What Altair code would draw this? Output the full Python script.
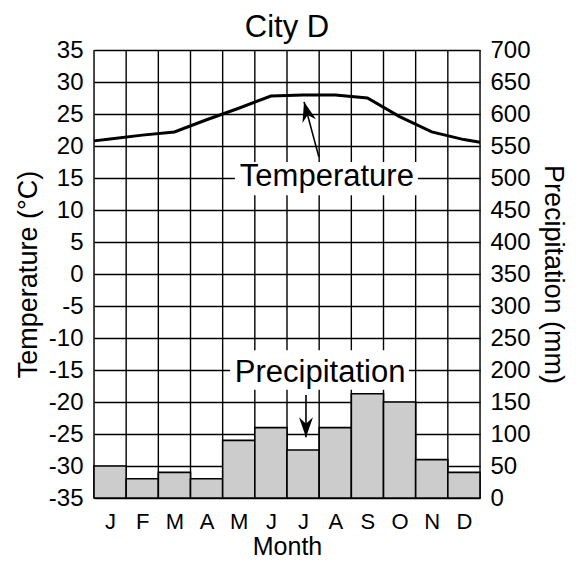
import json
import altair as alt
import pandas as pd

# ---- data ----
months = ["J", "F", "M", "A", "M", "J", "J", "A", "S", "O", "N", "D"]
precip_mm = [50, 30, 40, 30, 90, 110, 75, 110, 163, 150, 60, 40]
temp_c = [21.1, 21.7, 22.2, 24.1, 25.9, 27.8, 27.95, 27.95, 27.5, 24.6, 22.2, 21.0]
temp_year_start = 20.8   # value at the left edge (start of January)
temp_year_end = 20.6     # value at the right edge (end of December)

temp_ticks = list(range(-35, 40, 5))
precip_ticks = list(range(0, 750, 50))

# annotation labels (x in month units, y in degrees C)
ann_text = ["Temperature", "Precipitation"]
ann_x = [7.24, 7.03]
ann_y = [13.75, -16.83]
box_x1 = [4.38, 4.23]
box_x2 = [10.07, 9.79]
box_y1 = [17.5, -11.9]
box_y2 = [12.3, -18.1]
arrow_x_tail = [6.99, 6.59]
arrow_y_tail = [18.3, -18.9]
arrow_x_tip = [6.53, 6.59]
arrow_y_tip = [26.9, -25.5]
arrow_angle = [345, 180]

FONT = "Liberation Sans"
W, H = 386, 448

# ---- tables ----
n = len(months)
bars_df = pd.DataFrame({"start": list(range(n)), "end": [i + 1 for i in range(n)],
                        "precip": precip_mm, "month": months})
line_df = pd.DataFrame({"pos": [0] + [i + 0.5 for i in range(n)] + [n],
                        "temp": [temp_year_start] + temp_c + [temp_year_end]})
bounds_df = pd.DataFrame({"b": list(range(n + 1))})
ann_df = pd.DataFrame({"text": ann_text, "x": ann_x, "y": ann_y,
                       "bx1": box_x1, "bx2": box_x2, "by1": box_y1, "by2": box_y2,
                       "ax": arrow_x_tail, "ay": arrow_y_tail,
                       "tx": arrow_x_tip, "ty": arrow_y_tip, "ang": arrow_angle})

# ---- scales & axes ----
xs = alt.Scale(domain=[0, n], nice=False, zero=False)
label_expr = json.dumps(months) + "[floor(datum.value)]"
xaxis = alt.Axis(values=[i + 0.5 for i in range(n)], labelExpr=label_expr,
                 grid=False, ticks=False, domain=False, labelOverlap=False,
                 labelFontSize=22, labelPadding=13, labelFont=FONT, labelColor="black",
                 title="Month", titleFontSize=25, titleFont=FONT, titleFontWeight="normal",
                 titleColor="black", titlePadding=2)

ts = alt.Scale(domain=[-35, 35], nice=False, zero=False)
taxis = alt.Axis(values=temp_ticks, orient="left", grid=True, gridColor="black",
                 gridWidth=1.4, gridOpacity=1, ticks=False, domain=False,
                 labelOverlap=False, labelFontSize=24, labelPadding=11, labelFont=FONT,
                 labelColor="black", labelExpr="'' + datum.value",
                 title="Temperature (°C)", titleFontSize=27,
                 titleFont=FONT, titleFontWeight="normal", titleColor="black",
                 titlePadding=6)

ps = alt.Scale(domain=[0, 700], nice=False, zero=True)
paxis = alt.Axis(values=precip_ticks, orient="right", grid=False, ticks=False,
                 domain=False, labelOverlap=False, labelFontSize=24, labelPadding=10,
                 labelFont=FONT, labelColor="black", title="Precipitation (mm)",
                 titleFontSize=27, titleFont=FONT, titleFontWeight="normal",
                 titleColor="black", titlePadding=8)

# ---- layers ----
vgrid = alt.Chart(bounds_df).mark_rule(color="black", strokeWidth=1.4).encode(
    x=alt.X("b:Q", scale=xs, axis=xaxis))

bars = alt.Chart(bars_df).mark_rect(fill="#cccccc", stroke="black", strokeWidth=1.6).encode(
    x=alt.X("start:Q", scale=xs, axis=xaxis), x2="end:Q",
    y=alt.Y("precip:Q", scale=ps, axis=paxis), y2=alt.datum(0))

boxes = alt.Chart(ann_df).mark_rect(fill="white", stroke=None).encode(
    x=alt.X("bx1:Q", scale=xs, axis=xaxis), x2="bx2:Q",
    y=alt.Y("by1:Q", scale=ts, axis=taxis), y2="by2:Q")

tline = alt.Chart(line_df).mark_line(color="black", strokeWidth=3).encode(
    x=alt.X("pos:Q", scale=xs, axis=xaxis),
    y=alt.Y("temp:Q", scale=ts, axis=taxis))

labels = alt.Chart(ann_df).mark_text(font=FONT, fontSize=31, color="black",
                                     align="center", baseline="alphabetic").encode(
    x=alt.X("x:Q", scale=xs, axis=xaxis),
    y=alt.Y("y:Q", scale=ts, axis=taxis), text="text:N")

shafts = alt.Chart(ann_df).mark_rule(color="black", strokeWidth=1.6).encode(
    x=alt.X("ax:Q", scale=xs, axis=xaxis), x2="tx:Q",
    y=alt.Y("ay:Q", scale=ts, axis=taxis), y2="ty:Q")

heads = alt.Chart(ann_df).mark_point(
    shape="M0,0 L1.4,4 L0,2.7 L-1.4,4 Z", size=100, filled=True,
    fill="black", stroke=None, opacity=1).encode(
    x=alt.X("tx:Q", scale=xs, axis=xaxis),
    y=alt.Y("ty:Q", scale=ts, axis=taxis),
    angle=alt.Angle("ang:Q", scale=None))

temp_layer = alt.layer(boxes, tline, labels, shafts, heads)

chart = alt.layer(vgrid, bars, temp_layer).resolve_scale(y="independent").properties(
    width=W, height=H,
    title=alt.TitleParams("City D", fontSize=31, font=FONT, fontWeight="normal",
                          color="black", anchor="middle", offset=-6),
    autosize=alt.AutoSizeParams(type="none"),
    padding={"left": 86, "top": 42, "right": 88, "bottom": 60},
).configure_view(stroke="black", strokeWidth=2).configure(background="white")

chart.save("out.html", embed_options={"renderer": "svg", "actions": False})
